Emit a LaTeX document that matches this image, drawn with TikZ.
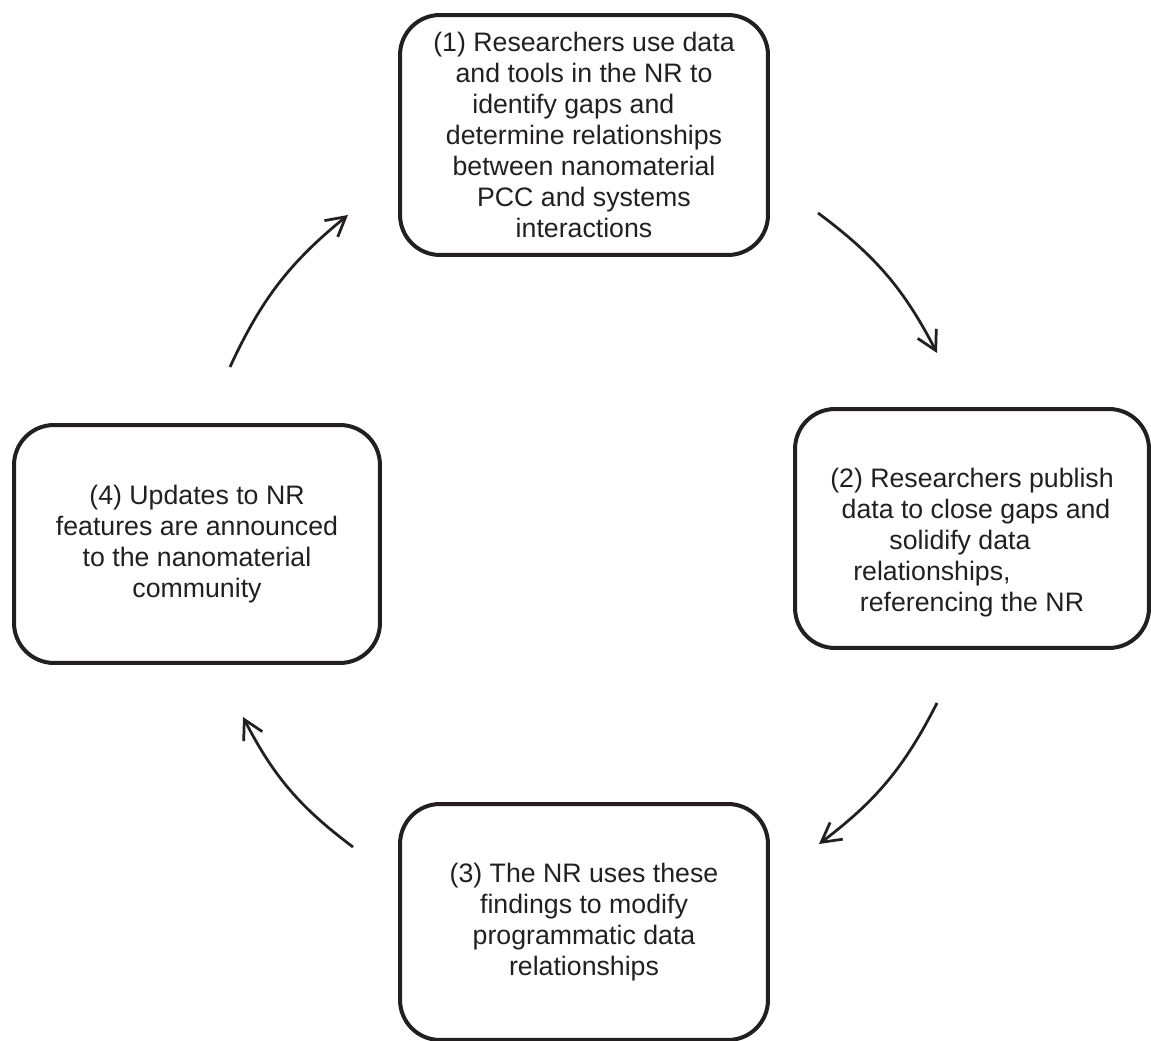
\documentclass[tikz,border=0pt]{standalone}
\usepackage{fontspec}
\setmainfont{Liberation Sans}
\usepackage{xcolor}
\usetikzlibrary{arrows.meta}
\definecolor{inkColor}{RGB}{35, 31, 32}

\begin{document}
\begin{tikzpicture}[
    x=0.02cm, y=0.02cm,
    stepbox/.style={draw=inkColor, line width=0.08cm, rounded corners=0.8cm, text=inkColor, font=\fontsize{15.2}{17.6}\selectfont, align=center, inner sep=0pt},
    cycle/.style={-{Straight Barb[length=3.8mm, width=4.2mm]}, line width=0.055cm, draw=inkColor, bend left=13}
]
    \useasboundingbox (0,0) rectangle (1151,1040);

    \node[stepbox, minimum width=7.36cm, minimum height=4.8cm] (research) at (584,905) {(1) Researchers use data \\ and tools in the NR to \\ identify gaps and\hspace*{0.8em} \\ determine relationships \\ between nanomaterial \\ PCC and systems \\ interactions};
    \node[stepbox, minimum width=7.08cm, minimum height=4.78cm] (publish) at (972,511.5) {\rule{0pt}{27pt}(2) Researchers publish \\ \hspace*{0.3em}data to close gaps and \\ solidify data\hspace*{0.9em} \\ relationships,\hspace*{3em} \\ referencing the NR};
    \node[stepbox, minimum width=7.36cm, minimum height=4.72cm] (modify) at (584,118) {(3) The NR uses these \\ findings to modify \\ programmatic data \\ relationships};
    \node[stepbox, minimum width=7.32cm, minimum height=4.76cm] (announce) at (197,496) {(4) Updates to NR \\ features are announced \\ to the nanomaterial \\ community};

    \coordinate (researchOut) at (818,827);
    \coordinate (publishIn) at (937,687);
    \coordinate (publishOut) at (937,337);
    \coordinate (modifyIn) at (819,196);
    \coordinate (modifyOut) at (353,193);
    \coordinate (announceIn) at (243,323);
    \coordinate (announceOut) at (230,673);
    \coordinate (researchIn) at (348,825);

    \draw[cycle] (researchOut) to (publishIn);
    \draw[cycle] (publishOut) to (modifyIn);
    \draw[cycle] (modifyOut) to (announceIn);
    \draw[cycle] (announceOut) to (researchIn);
\end{tikzpicture}
\end{document}
